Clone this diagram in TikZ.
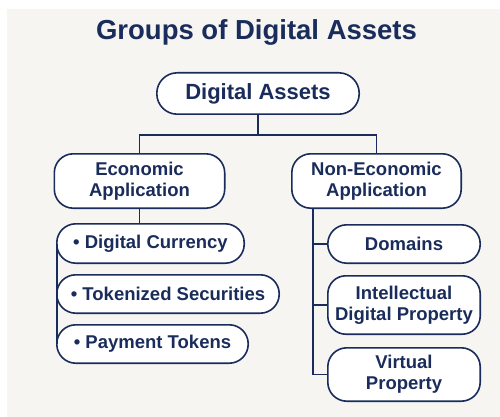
\documentclass[tikz,border=0pt]{standalone}
\usepackage{fontspec}
\setmainfont{Liberation Sans}
\usetikzlibrary{positioning}
\definecolor{navy}{HTML}{1A2C5B}
\definecolor{paper}{HTML}{F7F5F2}

\begin{document}
\begin{tikzpicture}[x=1pt,y=-1pt,node distance=11pt and 14pt,
 every node/.style={font=\bfseries\fontsize{18.5}{21}\selectfont,text=navy},
 pill/.style={draw=navy,line width=1.6pt,fill=white,rounded corners=19pt,align=center,inner sep=0pt,minimum height=38.4pt},
 link/.style={draw=navy,line width=1.6pt}]
\useasboundingbox (0,0) rectangle (500,417);
\fill[paper] (7,9) rectangle (500,417);
\node[anchor=base,font=\bfseries\fontsize{27.5}{32}\selectfont] (title) at (256.5,40) {Groups of Digital Assets};
\node[pill,minimum width=202.4pt,minimum height=41.4pt,rounded corners=20.5pt,font=\bfseries\fontsize{22}{26}\selectfont] (root) at (258,93.5) {Digital Assets};
\node[pill,below=38pt of root,xshift=-118.5pt,minimum width=170.4pt,minimum height=54.4pt] (eco) {Economic\\Application};
\node[pill,below=38pt of root,xshift=118.5pt,minimum width=169.4pt,minimum height=54.4pt] (noneco) {Non-Economic\\Application};
% economic side
\node[pill,below right=14pt and 2.5pt of eco.south west,minimum width=187.4pt,minimum height=39.4pt] (curr) {\textbullet\ Digital Currency};
\node[pill,below right=10pt and 0pt of curr.south west,minimum width=222.4pt] (secu) {\textbullet\ Tokenized Securities};
\node[pill,below right=10pt and 0pt of secu.south west,minimum width=191.4pt] (paym) {\textbullet\ Payment Tokens};
% non-economic side
\node[pill,below right=15pt and 36pt of noneco.south west,minimum width=152.4pt] (dom) {Domains};
\node[pill,below=of dom,minimum width=152.4pt,minimum height=58.4pt,rounded corners=18pt] (ip) {Intellectual\\Digital Property};
\node[pill,below=12pt of ip,minimum width=152.4pt,minimum height=53.4pt] (virt) {Virtual\\Property};
\coordinate[below=20pt of root] (split);
\coordinate[left=of dom.west] (rail);
\draw[link] (root.south) -- (split);
\draw[link] (eco.north) |- (split) -| (noneco.north);
\draw[link] (eco.south) -- (eco.south |- curr.north);
\draw[link] ([xshift=0.8pt]curr.west) -- ([xshift=0.8pt]paym.west);
\draw[link] (rail |- noneco.south) -- (rail |- virt.west) -- (virt.west);
\draw[link] (rail) -- (dom.west);\draw[link] (rail |- ip.west) -- (ip.west);
\end{tikzpicture}
\end{document}
